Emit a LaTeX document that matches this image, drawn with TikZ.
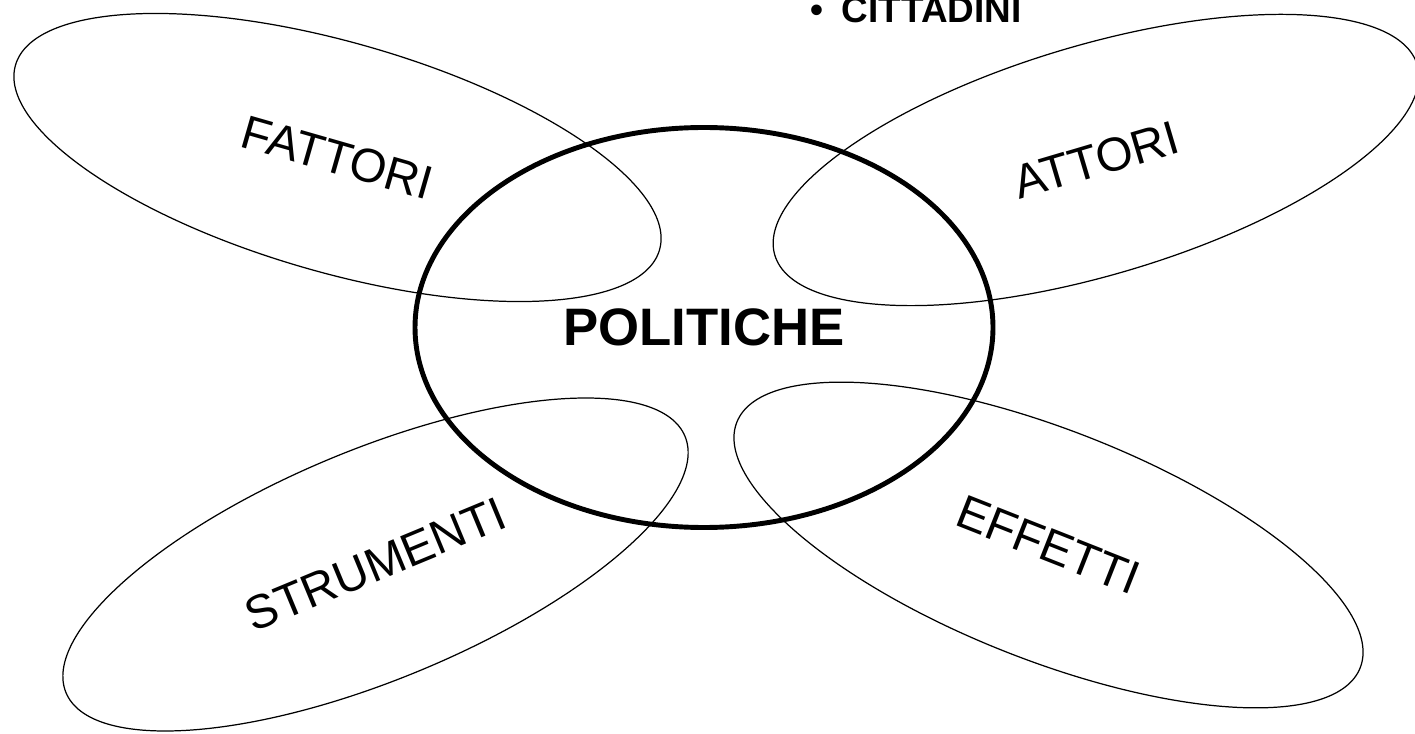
\documentclass[tikz,border=0pt]{standalone}
\usepackage{fontspec}
\setmainfont{Liberation Sans}
\usetikzlibrary{shapes.geometric}

\tikzset{
  petal/.style={draw, ellipse, line width=0.7pt, minimum width=13.4cm, minimum height=4.6cm,
    inner sep=0pt, font=\fontsize{27}{32}\selectfont},
  hub/.style={draw, ellipse, line width=2.8pt, minimum width=11.56cm, minimum height=8cm,
    inner sep=0pt, font=\bfseries\fontsize{30}{36}\selectfont},
}

\begin{document}
\begin{tikzpicture}
    \useasboundingbox (0,0) rectangle (28.3,14.66);

    % Four petals round the centre
    \node[petal, rotate=-16] (fattori) at (6.75,11.51) {FATTORI};
    \node[petal, rotate=16.5] (attori) at (21.92,11.46) {ATTORI};
    \node[petal, rotate=22.5] (strumenti) at (7.51,3.37) {STRUMENTI};
    \node[petal, rotate=-21.5] (effetti) at (20.97,3.76) {EFFETTI};

    % Centre
    \node[hub] (politiche) at (14.08,8.11) {POLITICHE};

    % Bullet at the top
    \node[anchor=base east, inner sep=0pt, font=\bfseries\fontsize{21}{25}\selectfont] (cittadini)
        at (20.44,14.2) {\textbullet\hspace{0.38cm}CITTADINI};
\end{tikzpicture}
\end{document}
